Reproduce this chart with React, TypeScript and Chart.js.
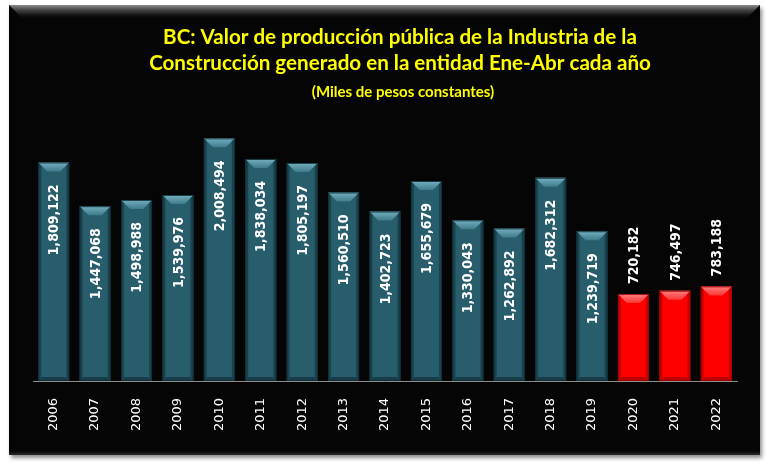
import React, { useEffect, useRef } from "react";
import { Chart, registerables } from "chart.js";

Chart.register(...registerables);

const years = ["2006","2007","2008","2009","2010","2011","2012","2013","2014","2015","2016","2017","2018","2019","2020","2021","2022"];
const values = [1809122,1447068,1498988,1539976,2008494,1838034,1805197,1560510,1402723,1655679,1330043,1262892,1682312,1239719,720182,746497,783188];
const highlightYears = ["2020","2021","2022"];
const titleLines = [
  "BC: Valor de producción pública de la Industria de la",
  "Construcción generado en la entidad Ene-Abr cada año",
];
const subtitleText = "(Miles de pesos constantes)";
const yMax = 2500000;

const TEAL = "#285d6b";
const RED = "#ff0000";

const isHi = (i: number) => highlightYears.includes(years[i]);

const bevelPlugin = {
  id: "bevel",
  afterDatasetsDraw(chart: any) {
    const ctx = chart.ctx;
    const meta = chart.getDatasetMeta(0);
    meta.data.forEach((bar: any, i: number) => {
      const { x, y, base, width } = bar.getProps(["x", "y", "base", "width"], true);
      const l = x - width / 2, r = x + width / 2, t = y, b = base;
      const hi = isHi(i);
      const d = 9;
      ctx.save();
      const g = ctx.createLinearGradient(0, t, 0, t + d);
      if (hi) { g.addColorStop(0, "#ff8080"); g.addColorStop(1, "#ff3535"); }
      else { g.addColorStop(0, "#74b0bf"); g.addColorStop(1, "#3f7b8a"); }
      ctx.fillStyle = g;
      ctx.beginPath();
      ctx.moveTo(l, t); ctx.lineTo(r, t); ctx.lineTo(r - d, t + d); ctx.lineTo(l + d, t + d); ctx.closePath();
      ctx.fill();
      ctx.fillStyle = hi ? "rgba(140,0,0,0.45)" : "rgba(10,35,45,0.45)";
      ctx.beginPath();
      ctx.moveTo(l, t); ctx.lineTo(l + 3, t + 3); ctx.lineTo(l + 3, b - 3); ctx.lineTo(l, b); ctx.closePath(); ctx.fill();
      ctx.beginPath();
      ctx.moveTo(r, t); ctx.lineTo(r - 3, t + 3); ctx.lineTo(r - 3, b - 3); ctx.lineTo(r, b); ctx.closePath(); ctx.fill();
      ctx.fillStyle = hi ? "rgba(120,0,0,0.5)" : "rgba(10,35,45,0.55)";
      ctx.beginPath();
      ctx.moveTo(l, b); ctx.lineTo(r, b); ctx.lineTo(r - 4, b - 4); ctx.lineTo(l + 4, b - 4); ctx.closePath(); ctx.fill();
      ctx.strokeStyle = hi ? "rgba(150,0,0,0.8)" : "rgba(15,45,55,0.9)";
      ctx.lineWidth = 1;
      ctx.strokeRect(l + 0.5, t + 0.5, width - 1, b - t - 1);
      ctx.restore();
    });
  },
};

const labelPlugin = {
  id: "valueLabels",
  afterDatasetsDraw(chart: any) {
    const ctx = chart.ctx;
    const meta = chart.getDatasetMeta(0);
    ctx.save();
    ctx.fillStyle = "#ffffff";
    ctx.font = "bold 14px 'DejaVu Sans', sans-serif";
    ctx.textBaseline = "middle";
    meta.data.forEach((bar: any, i: number) => {
      const { x, y } = bar.getProps(["x", "y"], true);
      const txt = values[i].toLocaleString("en-US");
      ctx.save();
      if (isHi(i)) {
        ctx.translate(x, y - 10);
        ctx.rotate(-Math.PI / 2);
        ctx.scale(0.9, 1);
        ctx.textAlign = "left";
      } else {
        ctx.translate(x, y + 22);
        ctx.rotate(-Math.PI / 2);
        ctx.scale(0.9, 1);
        ctx.textAlign = "right";
      }
      ctx.fillText(txt, 0, 1);
      ctx.restore();
    });
    ctx.restore();
  },
};

const titlePlugin = {
  id: "customTitle",
  afterDraw(chart: any) {
    const ctx = chart.ctx;
    ctx.save();
    ctx.fillStyle = "#ffff00";
    ctx.textAlign = "center";
    ctx.textBaseline = "alphabetic";
    ctx.font = "bold 20.6px Lato, 'Open Sans', sans-serif";
    ctx.fillText(titleLines[0], 400, 44);
    ctx.fillText(titleLines[1], 400, 70);
    ctx.font = "bold 15px Lato, 'Open Sans', sans-serif";
    ctx.fillText(subtitleText, 403, 97);
    ctx.restore();
  },
};

export default function App() {
  const ref = useRef<HTMLCanvasElement | null>(null);
  useEffect(() => {
    if (!ref.current) return;
    const chart = new Chart(ref.current, {
      type: "bar",
      data: {
        labels: years,
        datasets: [
          {
            data: values,
            backgroundColor: years.map((y) => (highlightYears.includes(y) ? RED : TEAL)),
            borderWidth: 0,
            categoryPercentage: 1,
            barPercentage: 0.75,
          },
        ],
      },
      options: {
        animation: false,
        responsive: false,
        events: [],
        layout: { padding: { left: 33, right: 33, top: 79, bottom: 29 } },
        plugins: { legend: { display: false }, title: { display: false }, tooltip: { enabled: false } },
        scales: {
          y: { display: false, min: 0, max: yMax },
          x: {
            afterFit: (s: any) => { s.height = 60; },
            grid: { display: false, drawTicks: false },
            border: { display: true, color: "#8c8c8c", width: 1 },
            ticks: {
              color: "#ffffff",
              minRotation: 90,
              maxRotation: 90,
              padding: 17,
              autoSkip: false,
              font: { family: "'DejaVu Sans', sans-serif", size: 13 },
            },
          },
        },
      },
      plugins: [bevelPlugin, labelPlugin, titlePlugin],
    });
    return () => chart.destroy();
  }, []);

  return (
    <div style={{ position: "fixed", left: 0, top: 0, width: 770, height: 470, background: "#ffffff" }}>
      <div
        style={{
          position: "absolute", left: 9, top: 5, width: 751, height: 450,
          background: "#050505",
          boxShadow: "2px 3px 4px rgba(0,0,0,0.45)",
        }}
      >
        <div
          style={{
            position: "absolute", left: 0, top: 0, width: 751, height: 13,
            background: "linear-gradient(to bottom, #8a8a8a 0px, #444 5px, #151515 10px, #050505 13px)",
            clipPath: "polygon(0 0, 100% 0, calc(100% - 13px) 100%, 13px 100%)",
          }}
        />
        <div
          style={{
            position: "absolute", left: 0, bottom: 0, width: 751, height: 4,
            background: "linear-gradient(to top, #2a2a2a, #050505)",
          }}
        />
      </div>
      <canvas ref={ref} width={770} height={470} style={{ position: "absolute", left: 0, top: 0, display: "block" }} />
    </div>
  );
}
